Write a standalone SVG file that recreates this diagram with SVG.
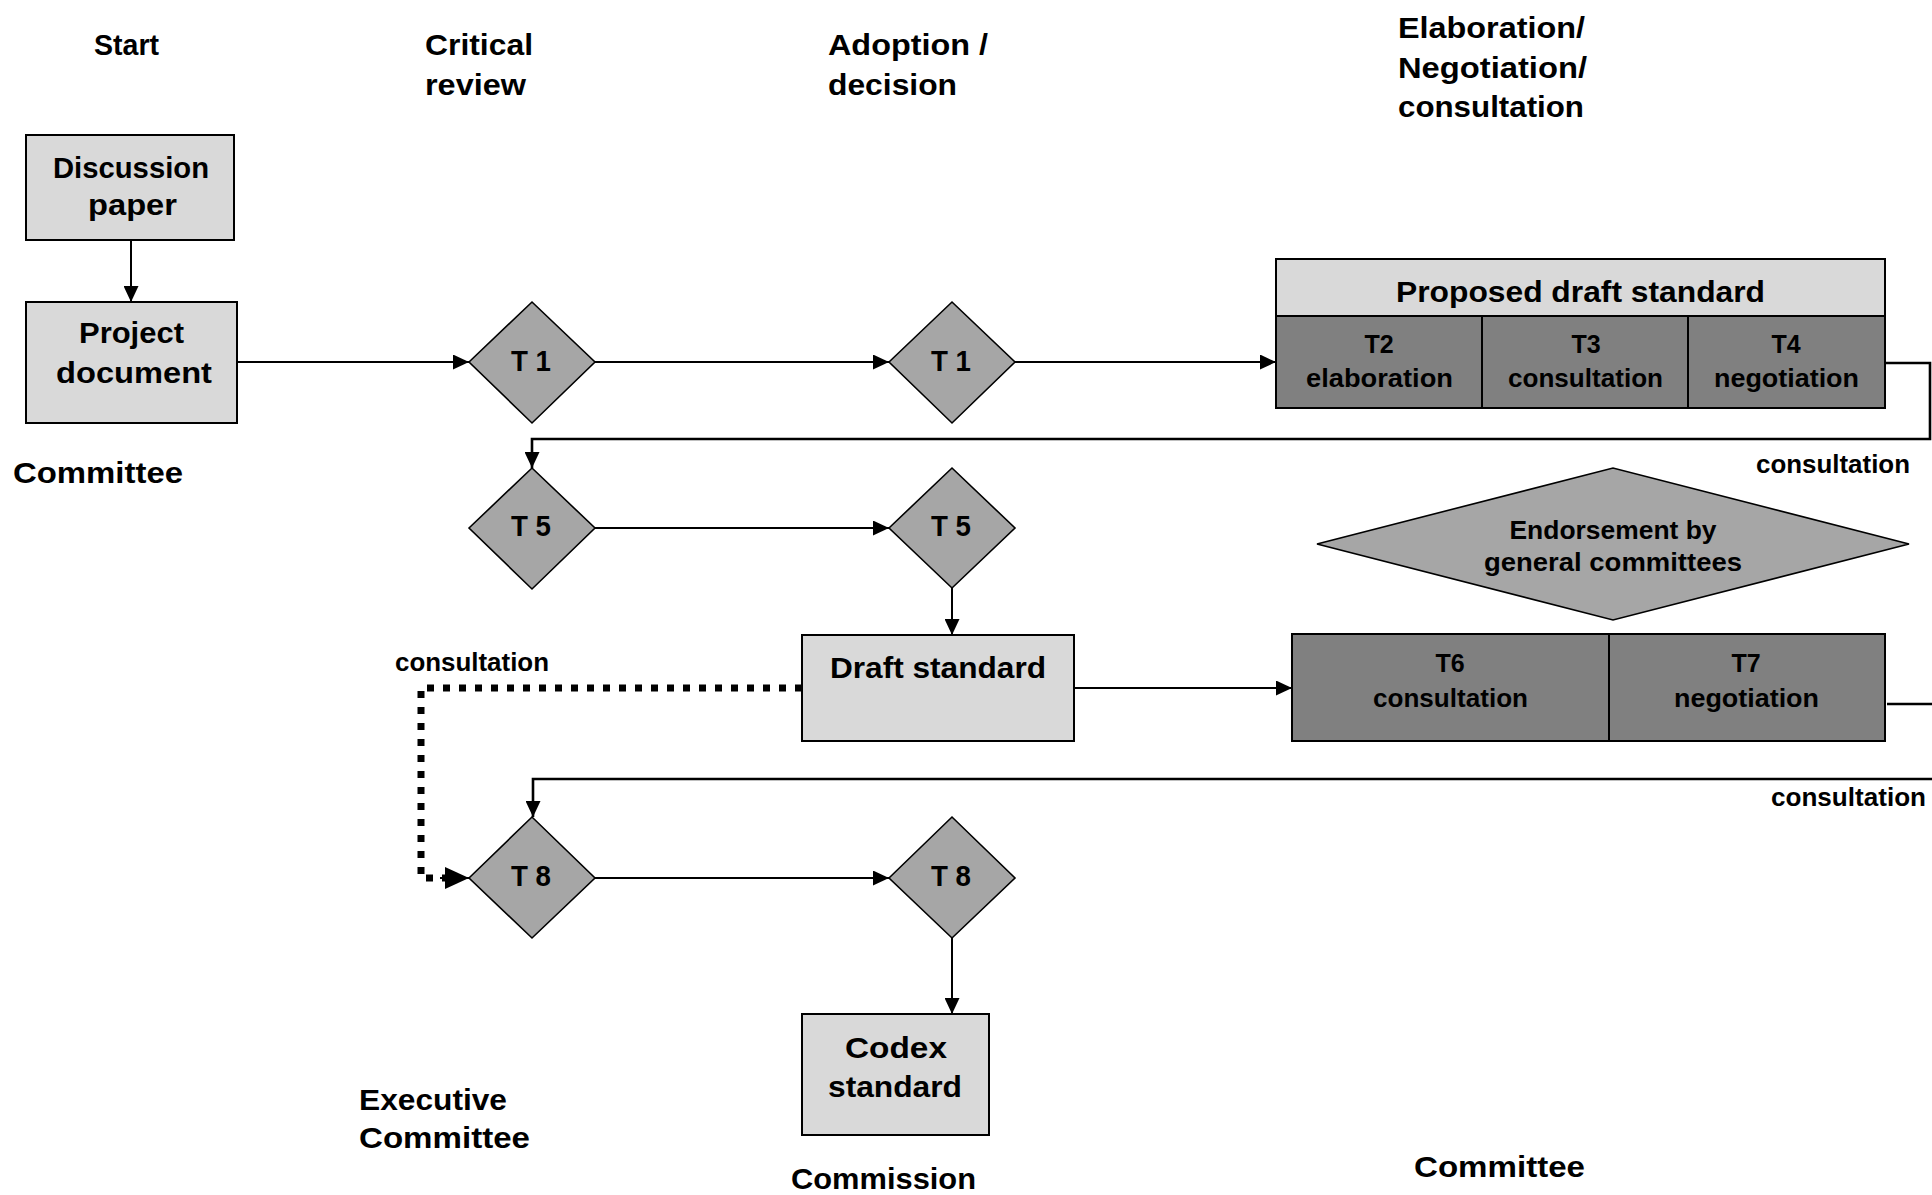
<svg xmlns="http://www.w3.org/2000/svg" width="1932" height="1195" viewBox="0 0 1932 1195">
<style>
text{font-family:"Liberation Sans",Arial,sans-serif;font-weight:bold;fill:#000}
.big{font-size:30px}
.sm{font-size:25px}
.dm{font-size:30px}
.light{fill:#d9d9d9;stroke:#000;stroke-width:2}
.dia{fill:#a6a6a6;stroke:#000;stroke-width:1.6}
.dark{fill:#808080;stroke:#000;stroke-width:2}
.c{fill:none;stroke:#000;stroke-width:2}
.loop{fill:none;stroke:#000;stroke-width:2.6}
.dot{fill:none;stroke:#000;stroke-width:7;stroke-dasharray:7 9}
</style>
<defs>
<marker id="ah" markerUnits="userSpaceOnUse" markerWidth="16" markerHeight="15" refX="16" refY="7.5" orient="auto">
<path d="M0,0 L16,7.5 L0,15 z" fill="#000"/>
</marker>
<marker id="ahb" markerUnits="userSpaceOnUse" markerWidth="24" markerHeight="22" refX="24" refY="11" orient="auto">
<path d="M0,0 L24,11 L0,22 z" fill="#000"/>
</marker>
</defs>

<g id="labels">
<text class="big" x="94" y="55" textLength="65" lengthAdjust="spacingAndGlyphs">Start</text>
<text class="big" x="425" y="55" textLength="108" lengthAdjust="spacingAndGlyphs">Critical</text>
<text class="big" x="425" y="95" textLength="101" lengthAdjust="spacingAndGlyphs">review</text>
<text class="big" x="828" y="55" textLength="160" lengthAdjust="spacingAndGlyphs">Adoption /</text>
<text class="big" x="828" y="95" textLength="129" lengthAdjust="spacingAndGlyphs">decision</text>
<text class="big" x="1398" y="38" textLength="187" lengthAdjust="spacingAndGlyphs">Elaboration/</text>
<text class="big" x="1398" y="78" textLength="189" lengthAdjust="spacingAndGlyphs">Negotiation/</text>
<text class="big" x="1398" y="117" textLength="186" lengthAdjust="spacingAndGlyphs">consultation</text>
<text class="big" x="13" y="483" textLength="170" lengthAdjust="spacingAndGlyphs">Committee</text>
<text class="sm" x="1756" y="473" textLength="154" lengthAdjust="spacingAndGlyphs">consultation</text>
<text class="sm" x="395" y="671" textLength="154" lengthAdjust="spacingAndGlyphs">consultation</text>
<text class="sm" x="1771" y="806" textLength="155" lengthAdjust="spacingAndGlyphs">consultation</text>
<text class="big" x="359" y="1110" textLength="148" lengthAdjust="spacingAndGlyphs">Executive</text>
<text class="big" x="359" y="1148" textLength="171" lengthAdjust="spacingAndGlyphs">Committee</text>
<text class="big" x="791" y="1189" textLength="185" lengthAdjust="spacingAndGlyphs">Commission</text>
<text class="big" x="1414" y="1177" textLength="171" lengthAdjust="spacingAndGlyphs">Committee</text>
</g>

<g id="connectors">
<line class="c" x1="131" y1="240" x2="131" y2="302" marker-end="url(#ah)"/>
<line class="c" x1="237" y1="362" x2="469" y2="362" marker-end="url(#ah)"/>
<line class="c" x1="595" y1="362" x2="889" y2="362" marker-end="url(#ah)"/>
<line class="c" x1="1015" y1="362" x2="1276" y2="362" marker-end="url(#ah)"/>
<polyline class="loop" points="1885,363 1930,363 1930,439 532,439 532,468" marker-end="url(#ah)"/>
<line class="c" x1="595" y1="528" x2="889" y2="528" marker-end="url(#ah)"/>
<line class="c" x1="952" y1="588" x2="952" y2="635" marker-end="url(#ah)"/>
<line class="c" x1="1074" y1="688" x2="1292" y2="688" marker-end="url(#ah)"/>
<polyline class="loop" points="1887,704 1936,704 1936,779 533,779 533,817" marker-end="url(#ah)"/>
<polyline class="dot" points="802,688 421,688 421,878 446,878"/>
<line class="c" x1="440" y1="878" x2="469" y2="878" marker-end="url(#ahb)"/>
<line class="c" x1="595" y1="878" x2="889" y2="878" marker-end="url(#ah)"/>
<line class="c" x1="952" y1="938" x2="952" y2="1014" marker-end="url(#ah)"/>
</g>

<g id="discussion">
<rect class="light" x="26" y="135" width="208" height="105"/>
<text class="big" x="53" y="178" textLength="156" lengthAdjust="spacingAndGlyphs">Discussion</text>
<text class="big" x="88" y="215" textLength="89" lengthAdjust="spacingAndGlyphs">paper</text>
</g>
<g id="project">
<rect class="light" x="26" y="302" width="211" height="121"/>
<text class="big" x="79" y="343" textLength="105" lengthAdjust="spacingAndGlyphs">Project</text>
<text class="big" x="56" y="383" textLength="156" lengthAdjust="spacingAndGlyphs">document</text>
</g>
<g id="t1a">
<polygon class="dia" points="469,362 532,302 595,362 532,423"/>
<text class="dm" x="531" y="371" text-anchor="middle" textLength="40" lengthAdjust="spacingAndGlyphs">T 1</text>
</g>
<g id="t1b">
<polygon class="dia" points="889,362 952,302 1015,362 952,423"/>
<text class="dm" x="951" y="371" text-anchor="middle" textLength="40" lengthAdjust="spacingAndGlyphs">T 1</text>
</g>
<g id="proposed">
<rect class="light" x="1276" y="259" width="609" height="57"/>
<rect class="dark" x="1276" y="316" width="206" height="92"/>
<rect class="dark" x="1482" y="316" width="206" height="92"/>
<rect class="dark" x="1688" y="316" width="197" height="92"/>
<text class="big" x="1396" y="302" textLength="369" lengthAdjust="spacingAndGlyphs">Proposed draft standard</text>
<text class="sm" x="1379" y="353" text-anchor="middle">T2</text>
<text class="sm" x="1306" y="387" textLength="147" lengthAdjust="spacingAndGlyphs">elaboration</text>
<text class="sm" x="1586" y="353" text-anchor="middle">T3</text>
<text class="sm" x="1508" y="387" textLength="155" lengthAdjust="spacingAndGlyphs">consultation</text>
<text class="sm" x="1786" y="353" text-anchor="middle">T4</text>
<text class="sm" x="1714" y="387" textLength="145" lengthAdjust="spacingAndGlyphs">negotiation</text>
</g>
<g id="t5a">
<polygon class="dia" points="469,528 532,468 595,528 532,589"/>
<text class="dm" x="531" y="536" text-anchor="middle" textLength="40" lengthAdjust="spacingAndGlyphs">T 5</text>
</g>
<g id="t5b">
<polygon class="dia" points="889,528 952,468 1015,528 952,588"/>
<text class="dm" x="951" y="536" text-anchor="middle" textLength="40" lengthAdjust="spacingAndGlyphs">T 5</text>
</g>
<g id="endorsement">
<polygon class="dia" points="1317,544 1613,468 1909,544 1613,620"/>
<text class="sm" x="1613" y="539" text-anchor="middle" textLength="207" lengthAdjust="spacingAndGlyphs">Endorsement by</text>
<text class="sm" x="1613" y="571" text-anchor="middle" textLength="258" lengthAdjust="spacingAndGlyphs">general committees</text>
</g>
<g id="draft">
<rect class="light" x="802" y="635" width="272" height="106"/>
<text class="big" x="830" y="678" textLength="216" lengthAdjust="spacingAndGlyphs">Draft standard</text>
</g>
<g id="t6t7">
<rect class="dark" x="1292" y="634" width="317" height="107"/>
<rect class="dark" x="1609" y="634" width="276" height="107"/>
<text class="sm" x="1450" y="672" text-anchor="middle">T6</text>
<text class="sm" x="1373" y="707" textLength="155" lengthAdjust="spacingAndGlyphs">consultation</text>
<text class="sm" x="1746" y="672" text-anchor="middle">T7</text>
<text class="sm" x="1674" y="707" textLength="145" lengthAdjust="spacingAndGlyphs">negotiation</text>
</g>
<g id="t8a">
<polygon class="dia" points="469,878 532,817 595,878 532,938"/>
<text class="dm" x="531" y="886" text-anchor="middle" textLength="40" lengthAdjust="spacingAndGlyphs">T 8</text>
</g>
<g id="t8b">
<polygon class="dia" points="889,878 952,817 1015,878 952,938"/>
<text class="dm" x="951" y="886" text-anchor="middle" textLength="40" lengthAdjust="spacingAndGlyphs">T 8</text>
</g>
<g id="codex">
<rect class="light" x="802" y="1014" width="187" height="121"/>
<text class="big" x="845" y="1058" textLength="102" lengthAdjust="spacingAndGlyphs">Codex</text>
<text class="big" x="828" y="1097" textLength="134" lengthAdjust="spacingAndGlyphs">standard</text>
</g>
</svg>
